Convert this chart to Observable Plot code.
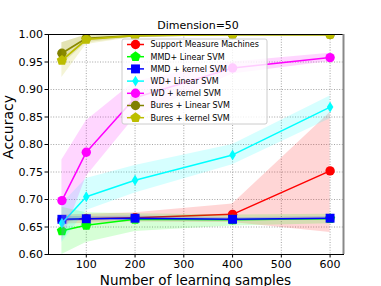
<!DOCTYPE html>
<html><head><meta charset="utf-8">
<script src="https://cdn.jsdelivr.net/npm/d3@7"></script>
<script src="https://cdn.jsdelivr.net/npm/@observablehq/plot@0.6"></script>
<style>body{margin:0;background:#fff}</style>
</head><body><div id="chart"></div>
<script>
const samples = [50, 100, 200, 400, 600];
const seriesNames = ["Support Measure Machines", "MMD+ Linear SVM", "MMD + kernel SVM", "WD+ Linear SVM", "WD + kernel SVM", "Bures + Linear SVM", "Bures + kernel SVM"];
const seriesColors = ["#ff0000", "#00ff00", "#0000ff", "#00ffff", "#ff00ff", "#808000", "#bcbd00"];
const seriesMarkers = ["circle", "pentagon", "square", "thinDiamond", "circle", "circle", "pentagon"];

const smmMean = [0.663, 0.665, 0.667, 0.673, 0.752];
const smmLow  = [0.655, 0.657, 0.659, 0.658, 0.640];
const smmHigh = [0.672, 0.673, 0.676, 0.692, 0.858];
const mmdLinMean = [0.643, 0.653, 0.664, 0.663, 0.665];
const mmdLinLow  = [0.600, 0.622, 0.642, 0.652, 0.656];
const mmdLinHigh = [0.686, 0.676, 0.674, 0.672, 0.673];
const mmdKerMean = [0.664, 0.665, 0.666, 0.664, 0.666];
const mmdKerLow  = [0.659, 0.661, 0.662, 0.661, 0.663];
const mmdKerHigh = [0.669, 0.669, 0.670, 0.667, 0.669];
const wdLinMean = [0.657, 0.705, 0.735, 0.781, 0.868];
const wdLinLow  = [0.622, 0.680, 0.712, 0.763, 0.847];
const wdLinHigh = [0.692, 0.738, 0.762, 0.800, 0.888];
const wdKerMean = [0.698, 0.786, 0.885, 0.939, 0.958];
const wdKerLow  = [0.625, 0.742, 0.850, 0.928, 0.951];
const wdKerHigh = [0.772, 0.843, 0.915, 0.950, 0.966];
const buresLinMean = [0.966, 0.993, 0.998, 1.000, 1.000];
const buresLinLow  = [0.945, 0.985, 0.995, 0.999, 0.999];
const buresLinHigh = [0.985, 0.999, 1.000, 1.000, 1.000];
const buresKerMean = [0.953, 0.991, 0.998, 1.000, 1.000];
const buresKerLow  = [0.922, 0.982, 0.995, 0.999, 0.999];
const buresKerHigh = [0.985, 0.999, 1.000, 1.000, 1.000];

const yTicks = [0.60, 0.65, 0.70, 0.75, 0.80, 0.85, 0.90, 0.95, 1.00];
const xTicks = [100, 200, 300, 400, 500, 600];
const titleText = "Dimension=50";
const xLabel = "Number of learning samples";
const yLabel = "Accuracy";

const means = [smmMean, mmdLinMean, mmdKerMean, wdLinMean, wdKerMean, buresLinMean, buresKerMean];
const lows = [smmLow, mmdLinLow, mmdKerLow, wdLinLow, wdKerLow, buresLinLow, buresKerLow];
const highs = [smmHigh, mmdLinHigh, mmdKerHigh, wdLinHigh, wdKerHigh, buresLinHigh, buresKerHigh];

// custom symbols
const symbols = {
  circle: {draw(ctx, size) { const r = Math.sqrt(size / Math.PI); ctx.moveTo(r, 0); ctx.arc(0, 0, r, 0, 2 * Math.PI); }},
  pentagon: {draw(ctx, size) { const r = Math.sqrt(size / Math.PI) * 1.15;
    for (let k = 0; k < 5; ++k) { const a = -Math.PI / 2 + k * 2 * Math.PI / 5; const px = r * Math.cos(a), py = r * Math.sin(a); k ? ctx.lineTo(px, py) : ctx.moveTo(px, py); }
    ctx.closePath(); }},
  square: {draw(ctx, size) { const h = Math.sqrt(size / Math.PI) * 0.95; ctx.rect(-h, -h, 2 * h, 2 * h); }},
  thinDiamond: {draw(ctx, size) { const r = Math.sqrt(size / Math.PI); const h = r * 1.15, w = r * 0.7;
    ctx.moveTo(0, -h); ctx.lineTo(w, 0); ctx.lineTo(0, h); ctx.lineTo(-w, 0); ctx.closePath(); }}
};
const dotR = 4.7;

const marks = [
  Plot.gridX(xTicks, {stroke: "#9a9a9a", strokeOpacity: 1, strokeDasharray: "1,1.6", strokeWidth: 0.9}),
  Plot.gridY(yTicks, {stroke: "#9a9a9a", strokeOpacity: 1, strokeDasharray: "1,1.6", strokeWidth: 0.9})
];
seriesNames.forEach((name, i) => {
  const rows = samples.map((s, j) => ({s, m: means[i][j], lo: lows[i][j], hi: highs[i][j]}));
  marks.push(Plot.areaY(rows, {x: "s", y1: "lo", y2: "hi", fill: seriesColors[i], fillOpacity: 0.16, clip: true}));
  marks.push(Plot.line(rows, {x: "s", y: "m", stroke: seriesColors[i], strokeWidth: i >= 5 ? 1.8 : 1.5, clip: true}));
  marks.push(Plot.dot(rows, {x: "s", y: "m", fill: seriesColors[i], stroke: "none", r: dotR, symbol: symbols[seriesMarkers[i]], clip: true}));
});
marks.push(
  Plot.frame({stroke: "black", strokeWidth: 1}),
  Plot.ruleX([627.5], {stroke: "#888", strokeWidth: 2}),
  Plot.axisX(xTicks, {tickSize: 3.5, tickPadding: 2, fontSize: 11, label: null, tickFormat: d => String(d)}),
  Plot.axisY(yTicks, {tickSize: 3.5, tickPadding: 2, fontSize: 11, label: null, tickFormat: d3.format(".2f")})
);

const chart = Plot.plot({
  width: 381, height: 286,
  marginLeft: 48, marginRight: 38, marginTop: 34, marginBottom: 32,
  style: {fontFamily: "DejaVu Sans, sans-serif", fontSize: "11px", background: "white", color: "black"},
  x: {domain: [22.5, 627.5]},
  y: {domain: [0.6, 1.0]},
  marks
});

const svg = d3.select(chart);
const font = "DejaVu Sans, sans-serif";
// titles
svg.append("text").attr("x", 198).attr("y", 29).attr("text-anchor", "middle")
  .attr("font-size", 11).attr("font-family", font).attr("fill", "black").text(titleText);
svg.append("text").attr("x", 195.5).attr("y", 284.5).attr("text-anchor", "middle")
  .attr("font-size", 13.5).attr("font-family", font).attr("fill", "black").text(xLabel);
svg.append("text").attr("transform", "translate(13,127) rotate(-90)").attr("text-anchor", "middle")
  .attr("font-size", 14).attr("font-family", font).attr("fill", "black").text(yLabel);

// legend
const lg = svg.append("g").attr("transform", "translate(122,39)").attr("text-anchor", "start");
lg.append("rect").attr("width", 145).attr("height", 85).attr("rx", 2)
  .attr("fill", "white").attr("fill-opacity", 0.8).attr("stroke", "#cccccc").attr("stroke-width", 1);
seriesNames.forEach((name, i) => {
  const yy = 5.5 + i * 12.2;
  const g = lg.append("g").attr("transform", `translate(0,${yy})`);
  g.append("line").attr("x1", 5).attr("x2", 22).attr("y1", 0).attr("y2", 0)
    .attr("stroke", seriesColors[i]).attr("stroke-width", 1.5);
  g.append("path").attr("transform", "translate(13.5,0)")
    .attr("d", d3.symbol().type(symbols[seriesMarkers[i]]).size(Math.PI * dotR * dotR)())
    .attr("fill", seriesColors[i]);
  g.append("text").attr("x", 28.5).attr("y", 0).attr("dy", "0.35em").attr("text-anchor", "start")
    .attr("font-size", 8).attr("fill", "black").attr("font-family", font).text(name);
});

document.getElementById("chart").appendChild(chart);
</script>
</body></html>
